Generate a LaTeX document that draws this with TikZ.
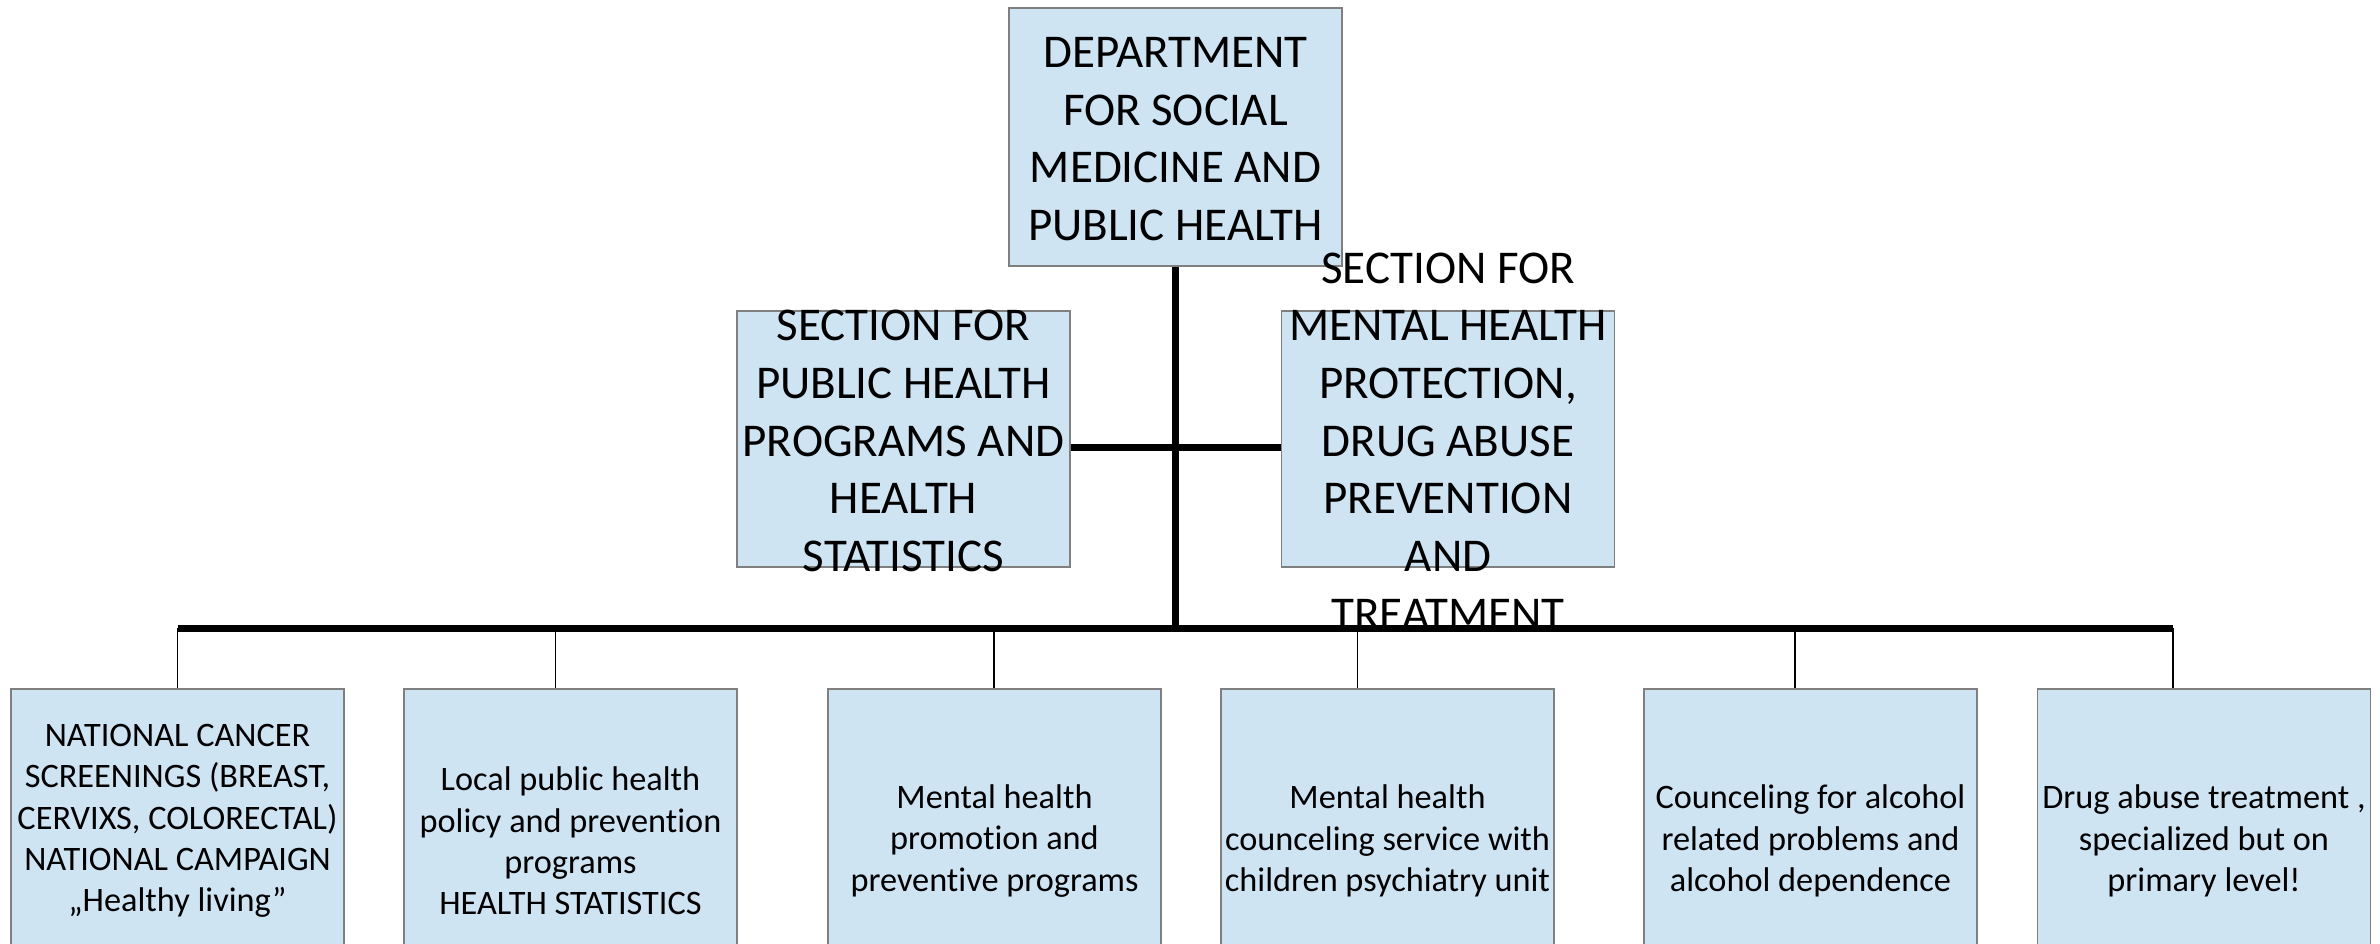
\documentclass[tikz,border=0pt]{standalone}
\usepackage{fontspec}
\setmainfont{Carlito}[Ligatures={NoCommon}]
\definecolor{boxfill}{HTML}{CFE4F3}
\definecolor{boxline}{HTML}{7F7F7F}
\begin{document}
\begin{tikzpicture}[x=1pt,y=-1pt,
  box/.style={draw=boxline,fill=boxfill,line width=1.5pt,inner sep=0pt,minimum width=333pt},
  bigtext/.style={font=\fontsize{47}{57.7}\selectfont,align=center,inner sep=0pt},
  smalltext/.style={font=\fontsize{34.3}{41.4}\selectfont,align=center,inner sep=0pt},
  thickline/.style={line width=7pt},
  thinline/.style={line width=1.6pt}]
\path[use as bounding box] (0,0) rectangle (2380,944);
\clip (0,0) rectangle (2380,944);

% boxes
\node[box,minimum height=258pt] (dept) at (1175.5,137) {};
\node[box,minimum height=256pt] (secL) at (903.5,439) {};
\node[box,minimum height=256pt] (secR) at (1448,439) {};
\node[box,minimum height=300pt] (u1) at (177.5,839) {};
\node[box,minimum height=300pt] (u2) at (570.5,839) {};
\node[box,minimum height=300pt] (u3) at (994.5,839) {};
\node[box,minimum height=300pt] (u4) at (1387.5,839) {};
\node[box,minimum height=300pt] (u5) at (1810.5,839) {};
\node[box,minimum height=300pt] (u6) at (2204,839) {};

% texts
\node[bigtext] (tdept) at (1175.5,139) {DEPARTMENT\\FOR SOCIAL\\MEDICINE AND\\PUBLIC HEALTH};
\node[bigtext] (tsecL) at (903.5,441) {SECTION FOR\\PUBLIC HEALTH\\PROGRAMS AND\\HEALTH\\STATISTICS};
\node[bigtext] (tsecR) at (1448,441) {SECTION FOR\\MENTAL HEALTH\\PROTECTION,\\DRUG ABUSE\\PREVENTION\\AND\\TREATMENT};
\node[smalltext] (t1) at (177.5,821) {NATIONAL CANCER\\SCREENINGS (BREAST,\\CERVIXS, COLORECTAL)\\NATIONAL CAMPAIGN\\„Healthy living”};
\node[smalltext] (t2) at (570.5,841) {Local public health\\policy and prevention\\programs\\HEALTH STATISTICS};
\node[smalltext] (t3) at (994.5,841) {Mental health\\promotion and\\preventive programs};
\node[smalltext] (t4) at (1387.5,841) {Mental health\\counceling service with\\children psychiatry unit};
\node[smalltext] (t5) at (1810.5,841) {Counceling for alcohol\\related problems and\\alcohol dependence};
\node[smalltext] (t6) at (2204,841) {Drug abuse treatment ,\\specialized but on\\primary level!};

% connector coordinates
\coordinate (barL) at (177.5,628);
\coordinate (barR) at (2173,628);
\coordinate (mid) at (1175.5,447);
\coordinate (d1) at (177.5,628);
\coordinate (d2) at (555.5,628);
\coordinate (d3) at (994,628);
\coordinate (d4) at (1357.5,628);
\coordinate (d5) at (1795,628);
\coordinate (d6) at (2173,628);

% connectors
\draw[thickline] (dept.south) -- (dept.south |- barL);
\draw[thickline] (mid -| secL.east) -- (mid -| secR.west);
\draw[thinline] (d1) -- (d1 |- u1.north);
\draw[thinline] (d2) -- (d2 |- u2.north);
\draw[thinline] (d3) -- (d3 |- u3.north);
\draw[thinline] (d4) -- (d4 |- u4.north);
\draw[thinline] (d5) -- (d5 |- u5.north);
\draw[thinline] (d6) -- (d6 |- u6.north);
\draw[thickline] (barL) -- (barR);
\end{tikzpicture}
\end{document}
